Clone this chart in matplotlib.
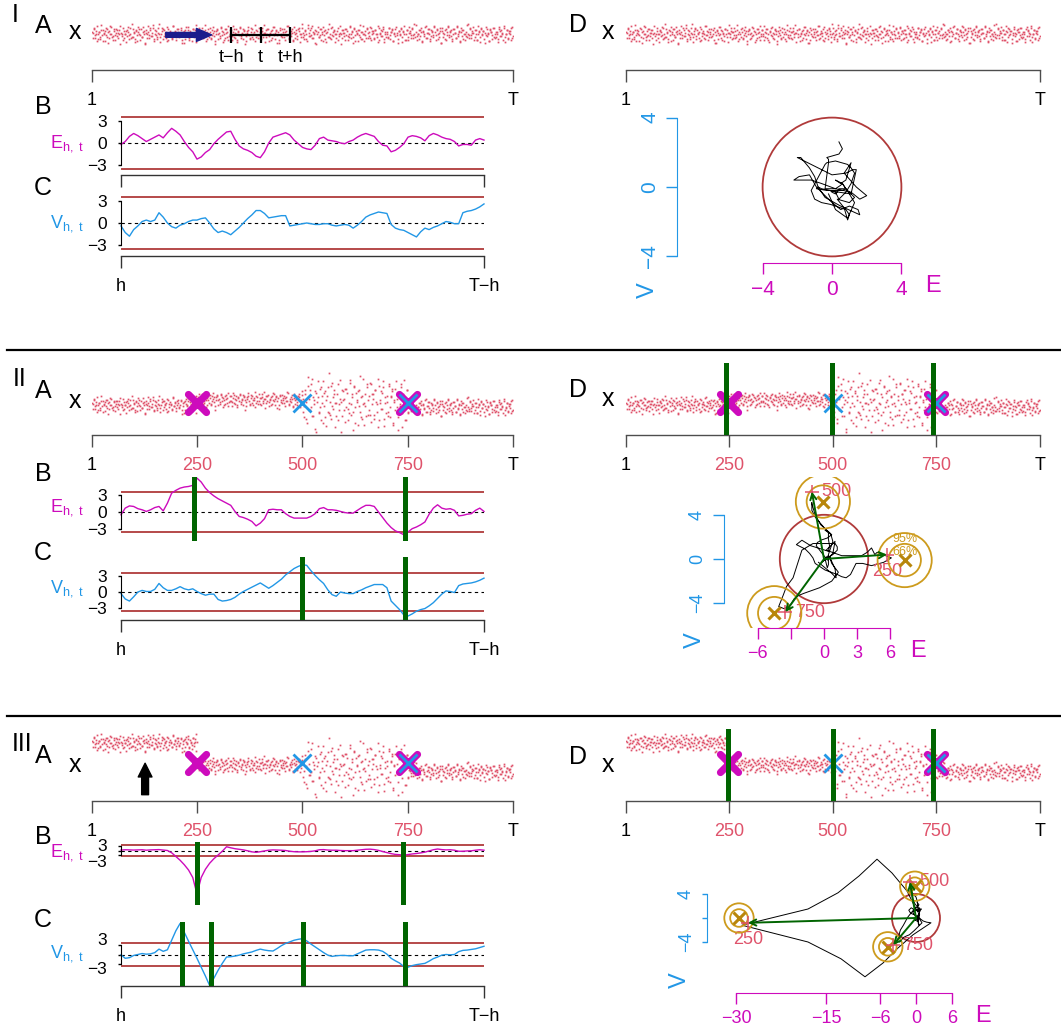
import matplotlib
import numpy as np

matplotlib.use("Agg")
import matplotlib.pyplot as plt
from matplotlib.lines import Line2D
from matplotlib.markers import MarkerStyle
from matplotlib.patches import Circle
from matplotlib.transforms import ScaledTranslation

plt.rcParams["font.family"] = ["Liberation Sans", "DejaVu Sans"]
plt.rcParams["mathtext.fontset"] = "custom"
plt.rcParams["mathtext.rm"] = "Liberation Sans"
plt.rcParams["mathtext.it"] = "Liberation Sans"
plt.rcParams["mathtext.default"] = "regular"

# ------------------------------------------------------------------ data
T_LEN = 1000
H_WIN = 70
THRESH = 3.6            # limit lines in B and C
R_LIMIT = 4.0           # limit circle in D
R66, R95 = 1.47, 2.45   # confidence circles round the expected shifts

# standardised noise of the simulated series x (tenths of a sd)
noise_tenths = [
    5, -8, 13, -2, 0, 17, -11, 4, -6, 9, -15, 2, 7, -3, 11, -19, 6, -1, 14, -7,
    -4, 10, -13, 3, 8, -9, 1, 16, -5, -12, 6, 0, -17, 9, 4, -2, 12, -8, 21, -6,
    2, -10, 7, -14, 5, 11, -3, -7, 15, 1, -20, 8, -1, 4, -9, 13, -5, 3, 18, -11,
    9, -2, -6, 12, 0, -16, 6, 10, -4, 3, -8, 14, -13, 2, 7, -1, -10, 17, -3, 5,
    -7, 1, 11, -5, 8, -12, 4, -18, 9, 2, -3, 15, -9, 6, 0, -14, 10, -6, 3, 19,
    -1, 7, -11, 4, 13, -8, -2, 9, -15, 5, 1, -6, 12, -10, 8, 3, -4, -21, 6, 11,
    0, -9, 14, -3, 5, -12, 10, 2, -7, 16, -5, 8, -1, -13, 4, 11, -8, 1, -16, 7,
    12, -4, 3, -10, 9, 0, -14, 6, 15, -2, -8, 4, 10, -11, 1, 18, -6, 7, -3, -9,
    5, 13, -7, 2, -17, 8, -1, 11, -5, 3, -12, 9, 0, 14, -10, 6, -3, -19, 12, 1,
    -6, 4, 10, -13, 7, -2, 16, -8, 2, -4, 11, -15, 5, 0, 8, -11, 13, -1, -7, 20,
    3, -10, 6, 1, -14, 12, -5, 9, -3, 17, -9, 2, -18, 7, 4, -6, 10, -12, 0, 15,
    -2, 8, -16, 5, 11, -7, 1, -11, 14, -4, 6, 0, -9, 13, -1, 3, -20, 9, 2, -5,
    10, -3, 7, -12, 0, 16, -8, 4, -6, 12, -14, 1, 8, -2, 19, -10, 5, -1, -15, 6,
    -9, 11, 2, -5, 14, -13, 6, 3, -8, 9, -1, -17, 12, 0, -4, 7, 15, -11, 4, -7,
    1, -6, 13, -10, 5, 8, -15, 2, 10, -3, -19, 6, -1, 11, -7, 4, 16, -12, 0, 9,
    -13, 3, 7, -2, 12, -8, 0, 18, -5, 1, -11, 9, 4, -16, 6, -4, 14, -9, 2, 10,
    -1, -14, 8, 5, -7, 15, -3, 11, -10, 2, 6, -18, 13, -6, 0, 9, -12, 4, 17, -2,
    7, -5, -11, 10, 3, -9, 16, -1, 4, -15, 12, -4, 8, 1, -13, 5, -7, 20, -3, 11,
    -8, 2, 14, -6, 9, -12, 0, 6, -17, 13, -2, 7, -10, 3, 15, -5, 1, -14, 10, 4,
    -3, 12, -9, 5, 0, -16, 11, -4, 8, 2, -12, 17, -6, 1, 9, -11, 6, -1, 13, -8,
]

# segment levels and spreads of x (segments start at these times)
seg_start = [1, 250, 500, 750]
mean_I = [0.0, 0.0, 0.0, 0.0]
sd_I = [1.1, 1.1, 1.1, 1.1]
mean_II = [-0.45, 0.65, 0.0, -0.9]
sd_II = [1.0, 1.0, 3.2, 1.1]
mean_III = [4.9, 0.0, -0.65, -1.55]
sd_III = [1.0, 1.0, 3.2, 1.1]

# E_{h,t} and V_{h,t}, t = h ... T-h every 10
t_ev = np.arange(H_WIN, T_LEN - H_WIN + 1, 10)
e_I = [
    -0.2, 0.2, 0.9, 1.3, 1.0, 0.6, 0.2, 0.5, 0.8, 1.1,
    0.7, 1.4, 2.0, 1.6, 1.1, 0.2, -0.6, -1.2, -2.2, -1.9,
    -1.3, -0.9, -0.1, 0.5, 1.0, 1.5, 1.6, 0.5, -0.4, -0.8,
    -1.0, -1.3, -1.8, -2.0, -1.2, 0.0, 0.8, 1.0, 1.2, 1.4,
    1.1, 0.4, -0.1, -0.6, -0.8, -0.9, -0.3, 0.6, 0.8, 0.4,
    0.3, 0.2, 0.0, -0.1, 0.2, 0.4, 0.8, 1.1, 1.3, 1.1,
    0.9, 0.2, -0.3, -0.4, -1.2, -1.0, -0.6, -0.1, 0.8, 1.0,
    0.9, 0.7, 0.3, 1.0, 1.3, 1.1, 0.8, 0.6, 0.5, 0.2,
    -0.4, -0.2, -0.2, -0.3, 0.4, 0.6, 0.4,
]
v_I = [
    -0.4, -1.3, -1.8, -0.9, -0.4, 0.2, 0.4, 0.2, 0.4, 1.4,
    0.8, 0.0, -0.5, -0.7, -0.3, -0.1, 0.2, 0.4, 0.4, 0.6,
    0.7, 0.0, -0.8, -1.3, -1.1, -1.3, -1.6, -1.1, -0.6, 0.0,
    0.6, 1.1, 1.7, 1.7, 1.3, 0.7, 0.8, 0.9, 1.0, 1.0,
    -0.4, -0.3, -0.2, -0.1, 0.0, -0.1, -0.2, -0.2, -0.1, -0.1,
    -0.3, -0.4, -0.3, -0.2, -0.3, -0.7, -0.3, 0.2, 0.8, 1.1,
    1.3, 1.5, 1.4, 1.3, -0.2, -0.7, -0.9, -1.0, -1.3, -1.6,
    -1.9, -1.2, -0.7, -0.9, -0.6, -0.4, -0.1, 0.2, 0.1, -0.1,
    -0.1, 1.4, 1.6, 1.7, 1.9, 2.2, 2.6,
]
e_II = [
    -0.5, 0.7, 1.1, 1.0, 0.6, 0.4, 0.1, 0.4, 0.8, 1.0,
    0.2, 1.6, 3.4, 3.9, 4.3, 4.5, 4.6, 4.8, 6.1, 5.4,
    4.3, 3.5, 2.9, 2.4, 2.0, 1.6, 1.2, 0.1, -0.8, -1.0,
    -1.3, -1.7, -2.5, -2.0, -1.2, 0.4, 0.5, 0.4, 0.4, -0.3,
    -0.8, -1.1, -1.1, -1.1, -1.1, -0.8, -0.3, 0.6, 0.8, 0.4,
    0.4, 0.3, 0.1, -0.1, -0.2, -0.2, 0.3, 0.8, 1.2, 1.2,
    1.0, 0.0, -1.0, -2.0, -2.8, -3.4, -3.7, -4.1, -3.6, -3.0,
    -2.7, -2.3, -1.8, -0.4, 0.7, 1.3, 0.7, 0.5, 0.6, 0.3,
    -0.7, -0.6, -0.4, -0.3, 0.3, 0.7, 0.1,
]
v_II = [
    -0.3, -1.3, -1.7, -0.9, 0.0, 0.3, 0.1, 0.1, 0.5, 1.6,
    0.8, 0.3, 0.3, 0.6, 1.0, 0.6, 0.4, 0.6, 0.1, -0.3,
    -0.6, -0.4, -0.4, -1.4, -1.7, -1.6, -1.4, -1.0, -0.4, 0.1,
    0.5, 0.9, 1.3, 1.7, 1.2, 0.7, 1.2, 1.8, 2.4, 3.2,
    3.8, 4.4, 4.8, 5.1, 5.0, 4.0, 3.1, 2.3, 1.6, 0.4,
    -0.5, -0.8, 0.0, -0.2, -0.3, -0.3, 0.1, 0.4, 0.8, 1.1,
    1.4, 1.4, 1.4, 0.8, -1.7, -2.5, -3.3, -4.3, -4.5, -4.1,
    -3.6, -3.3, -3.1, -2.6, -2.0, -1.2, -0.4, 0.2, 0.1, -0.1,
    1.2, 1.5, 1.6, 1.7, 1.9, 2.2, 2.6,
]
e_III = [
    0.3, 0.5, 0.4, 0.3, 0.4, 0.5, 0.2, 0.4, 0.5, 0.6,
    0.3, 0.0, -1.5, -4.0, -6.5, -9.5, -13.0, -18.0, -29.0, -18.0,
    -12.5, -8.5, -5.5, -3.0, -0.5, 2.5, 1.8, 1.2, 0.8, 0.4,
    -0.2, -0.9, -1.2, -0.8, -0.3, 0.2, 0.4, 0.3, 0.2, 0.0,
    -0.5, -0.8, -0.9, -0.9, -0.8, -0.6, -0.2, 0.5, 0.6, 0.3,
    0.2, 0.2, 0.0, -0.1, -0.1, -0.1, 0.2, 0.5, 0.8, 0.9,
    0.6, 0.1, -0.7, -1.4, -2.1, -2.6, -2.8, -3.1, -2.7, -2.3,
    -2.0, -1.6, -1.1, -0.3, 0.5, 1.0, 0.6, 0.4, 0.5, 0.2,
    -0.5, -0.5, -0.3, -0.2, 0.2, 0.5, 0.2,
]
v_III = [
    -0.1, -1.2, -1.0, -0.3, 0.0, 0.3, 0.1, 0.2, 0.6, 1.7,
    1.0, 1.5, 4.5, 7.5, 9.8, 7.0, 4.2, 1.5, -1.2, -4.0,
    -6.8, -9.8, -7.5, -5.0, -2.8, -0.8, -0.7, -0.5, -0.2, 0.2,
    0.5, 0.8, 1.3, 1.7, 1.4, 1.2, 1.1, 1.9, 2.8, 3.5,
    4.0, 4.5, 4.8, 5.0, 4.3, 3.3, 2.4, 1.5, 0.6, -0.2,
    -0.6, -0.4, -0.3, -0.3, -0.4, -0.4, 0.2, 0.8, 1.4, 1.5,
    1.5, 1.4, 1.0, 0.1, -1.2, -2.0, -2.7, -3.8, -4.0, -3.5,
    -3.2, -3.0, -2.8, -2.1, -1.3, -0.8, -0.2, 0.0, -0.1, 0.0,
    0.9, 1.3, 1.4, 1.6, 1.8, 2.2, 2.6,
]

change_ticks = [1, 250, 500, 750, 1000]
change_labels = ["1", "250", "500", "750", "T"]
mean_marks = [250, 750]   # magenta crosses: change in mean
var_marks = [500, 750]    # blue crosses: change in variance

# detected change points (green bars)
bars_e_II = [242, 742]
bars_v_II = [498, 744]
bars_d_II = [242, 498, 742]
bars_e_III = [250, 739]
bars_v_III = [214, 283, 500, 744]
bars_d_III = [247, 500, 742]

# panel D: expected shifts (gold) and observed (E, V) at the change points
point_labels = ["250", "500", "750"]
gold_e_II = [7.3, -0.1, -4.5]
gold_v_II = [-0.1, 5.2, -4.9]
plus_e_II = [5.7, -1.1, -3.5]
plus_v_II = [0.4, 6.1, -4.8]
gold_e_III = [-29.5, -0.2, -4.7]
gold_v_III = [0.0, 5.3, -4.8]
plus_e_III = [-28.0, -1.0, -3.8]
plus_v_III = [-0.8, 6.0, -4.5]

# schematic of row I
arrow_t = [176, 285]
bracket_t = [331, 401, 471]
bracket_labels = ["t\u2212h", "t", "t+h"]
up_arrow_t = 127

# ------------------------------------------------------------------ style
PT_RED = "#DF536B"
MAG = "#CD0BBC"
BLUE = "#2297E6"
THR = "#B03A3A"
GOLD = "#CD9B1D"
GREEN = "#006400"
AXC = "#4D4D4D"
MINUS = "\u2212"

W, H = 1061, 1036
PT = 0.72      # points per pixel at 100 dpi
PPX = 4.5      # pixels per unit of x in panels A

fig = plt.figure(figsize=(W / 100, H / 100), dpi=100)

# the typed noise read forwards, interleaved with a shifted backwards pass
base = np.asarray(noise_tenths) / 10.0
noise = np.column_stack([base, np.roll(base, 137)[::-1]]).ravel()
t_x = np.linspace(1, T_LEN, len(noise))


def px_axes(left, right, top, bottom):
    ax = fig.add_axes([left / W, 1 - bottom / H, (right - left) / W, (bottom - top) / H])
    for sp in ax.spines.values():
        sp.set_visible(False)
    ax.set_xticks([])
    ax.set_yticks([])
    ax.patch.set_alpha(0)
    return ax


def ftext(x, y, s, **kw):
    kw.setdefault("ha", "center")
    kw.setdefault("va", "center")
    fig.text(x / W, 1 - y / H, s, **kw)


def x_series(mean, sd):
    seg = np.searchsorted(seg_start, t_x, side="right") - 1
    return np.asarray(mean)[seg] + np.asarray(sd)[seg] * noise


def time_axis(ax, ticks, labels, colors, color=AXC):
    sp = ax.spines["bottom"]
    sp.set_visible(True)
    sp.set_color(color)
    sp.set_linewidth(1)
    sp.set_bounds(ticks[0], ticks[-1])
    ax.set_xticks(ticks)
    ax.set_xticklabels(labels)
    ax.tick_params(axis="x", length=12 * PT, width=1, color=color, pad=7, labelsize=13)
    for lab, c in zip(ax.get_xticklabels(), colors):
        lab.set_color(c)


def crosses(ax, y):
    mag = MarkerStyle("x", capstyle="round")
    ax.plot(mean_marks, [y] * len(mean_marks), ls="none", marker=mag, ms=13,
            mew=5.2, color=MAG, zorder=3)
    ax.plot(var_marks, [y] * len(var_marks), ls="none", marker="x", ms=12.5,
            mew=2, color=BLUE, zorder=4)


def x_panel(left, right, top, bottom, zero, xs, full_ticks):
    ax = px_axes(left, right, top, bottom)
    ax.set_xlim(1, T_LEN)
    ax.set_ylim((zero - bottom) / PPX, (zero - top) / PPX)
    ax.plot(t_x, xs, "s", ms=1.25, mew=0, color=PT_RED, zorder=2)
    if full_ticks:
        cols = ["black", PT_RED, PT_RED, PT_RED, "black"]
        time_axis(ax, change_ticks, change_labels, cols)
    else:
        time_axis(ax, [1, T_LEN], ["1", "T"], ["black", "black"])
    return ax


def level_panel(top, bottom, zero, ppu, series, color, bars, xlabels, ylabels,
                label_shift=(0, 0, 0)):
    ax = px_axes(121, 484, top, bottom)
    ax.set_xlim(H_WIN, T_LEN - H_WIN)
    ax.set_ylim((zero - bottom) / ppu, (zero - top) / ppu)
    for y in (THRESH, -THRESH):
        ax.axhline(y, color=THR, lw=1.3, zorder=1)
    ax.axhline(0, color="black", lw=0.8, ls=(0, (3, 3)), zorder=1)
    ax.plot(t_ev, series, color=color, lw=1.0, clip_on=False, zorder=2)
    for b in bars:
        ax.axvline(b, color=GREEN, lw=5 * PT, zorder=3)
    sp = ax.spines["left"]
    sp.set_visible(True)
    sp.set_bounds(-3, 3)
    ax.set_yticks([-3, 0, 3])
    ax.set_yticklabels(ylabels)
    ax.tick_params(axis="y", length=3 * PT, width=1, pad=8, labelsize=12.5)
    # nudge crowded labels apart (pixels, positive = up)
    for lab, dy in zip(ax.get_yticklabels(), label_shift):
        lab.set_transform(lab.get_transform() + ScaledTranslation(0, dy / 100, fig.dpi_scale_trans))
    if xlabels is not None:
        time_axis(ax, [H_WIN, T_LEN - H_WIN], xlabels, ["black", "black"], color="#333333")
    return ax


def phase_panel(left, top, bottom, cx, cy, ppu, e, v, eticks, elabels, vlabels,
                size, vtick=11):
    right = 1055
    ax = px_axes(left, right, top, bottom)
    ax.set_xlim((left - cx) / ppu, (right - cx) / ppu)
    ax.set_ylim((cy - bottom) / ppu, (cy - top) / ppu)
    ax.add_patch(Circle((0, 0), R_LIMIT, fill=False, ec=THR, lw=1.3, zorder=2))
    ax.plot(e, v, color="black", lw=0.7, zorder=3)
    sp = ax.spines["left"]
    sp.set_visible(True)
    sp.set_color(BLUE)
    sp.set_bounds(-4, 4)
    ax.set_yticks([-4, 0, 4])
    ax.set_yticklabels(vlabels)
    ax.tick_params(axis="y", length=vtick * PT, width=1, color=BLUE, labelcolor=BLUE,
                   labelsize=size, labelrotation=90, pad=5)
    for lab in ax.get_yticklabels():
        lab.set_va("center")
    sp = ax.spines["bottom"]
    sp.set_visible(True)
    sp.set_color(MAG)
    sp.set_bounds(eticks[0], eticks[-1])
    ax.set_xticks(eticks)
    ax.set_xticklabels(elabels)
    ax.tick_params(axis="x", length=11 * PT, width=1, color=MAG, labelcolor=MAG,
                   labelsize=size, pad=4)
    return ax


def shifts(ax, ge, gv, pe, pv, show_pct):
    for k in range(len(ge)):
        for r in (R66, R95):
            ax.add_patch(Circle((ge[k], gv[k]), r, fill=False, ec=GOLD, lw=1.3, zorder=4))
        ax.annotate("", xy=(pe[k], pv[k]), xytext=(0, 0), zorder=6,
                    arrowprops=dict(arrowstyle="->", color=GREEN, lw=1.4,
                                    shrinkA=0, shrinkB=0, mutation_scale=11))
        if k == 0:
            ax.annotate(point_labels[k], (pe[k], pv[k]), xytext=(0, -6),
                        textcoords="offset points", ha="center", va="top",
                        color=PT_RED, fontsize=13)
        else:
            ax.annotate(point_labels[k], (pe[k], pv[k]), xytext=(7, 0),
                        textcoords="offset points", ha="left", va="center",
                        color=PT_RED, fontsize=13)
    ax.plot(ge, gv, ls="none", marker="x", ms=8, mew=2.2, color="#B8860B", zorder=5)
    ax.plot(pe, pv, ls="none", marker="+", ms=10, mew=1.1, color=PT_RED, zorder=5)
    if show_pct:
        ax.text(ge[0], gv[0] + R95 - 0.55, "95%", color=GOLD, fontsize=9,
                ha="center", va="center")
        ax.text(ge[0], gv[0] + R66 - 0.75, "66%", color=GOLD, fontsize=9,
                ha="center", va="center")


def ev_labels(ye, yv):
    ftext(67, ye, r"$E_{h,\ t}$", color=MAG, fontsize=13)
    ftext(67, yv, r"$V_{h,\ t}$", color=BLUE, fontsize=13)


# ------------------------------------------------------------------ row I
x_I = x_series(mean_I, sd_I)
ax = x_panel(92, 513, 10, 70, 34, x_I, False)
ax.annotate("", xy=(arrow_t[1], -0.2), xytext=(arrow_t[0], -0.2), zorder=5,
            arrowprops=dict(arrowstyle="simple,head_length=1.0,head_width=0.85,tail_width=0.32",
                            color="#1C1C8C", mutation_scale=11, shrinkA=0, shrinkB=0))
ax.plot([bracket_t[0], bracket_t[-1]], [-0.2, -0.2], color="black", lw=1.6, zorder=5)
ax.vlines(bracket_t, -1.9, 1.5, color="black", lw=1.6, zorder=5)
for bt, bl in zip(bracket_t, bracket_labels):
    ax.text(bt, -5.3, bl, ha="center", va="center", fontsize=13)

level_panel(112, 175, 143, 22 / 3, e_I, MAG, [], ["", ""], [MINUS + "3", "0", "3"])
level_panel(192, 256, 223, 22 / 3, v_I, BLUE, [], ["h", "T" + MINUS + "h"],
            [MINUS + "3", "0", "3"])
ev_labels(144, 224)

x_panel(626, 1040, 10, 70, 34, x_I, False)
phase_panel(677, 110, 263, 832, 187, 17.35, e_I, v_I, [-4, 0, 4],
            [MINUS + "4", "0", "4"], [MINUS + "4", "0", "4"], 15)

ftext(15, 15, "I", fontsize=18)
ftext(43, 26, "A", fontsize=18)
ftext(75, 32, "x", fontsize=18)
ftext(43, 107, "B", fontsize=18)
ftext(43, 188, "C", fontsize=18)
ftext(578, 25, "D", fontsize=18)
ftext(608, 32, "x", fontsize=18)
ftext(648, 290, "V", fontsize=17, color=BLUE, rotation=90)
ftext(933, 286, "E", fontsize=17, color=MAG)

# ------------------------------------------------------------------ row II
x_II = x_series(mean_II, sd_II)
ax = x_panel(92, 513, 360, 435, 403, x_II, True)
crosses(ax, 0.0)
level_panel(477, 541, 512, 5.55, e_II, MAG, bars_e_II, None, [MINUS + "3", "0", "3"])
level_panel(557, 620, 592, 16 / 3, v_II, BLUE, bars_v_II, ["h", "T" + MINUS + "h"],
            [MINUS + "3", "0", "3"])
ev_labels(508, 589)

ax = x_panel(626, 1040, 360, 435, 403, x_II, True)
crosses(ax, 0.0)
for b in bars_d_II:
    ax.axvline(b, ymin=0, ymax=0.93, color=GREEN, lw=5 * PT, zorder=5)
ax = phase_panel(724, 477, 628, 824, 559, 11.05, e_II, v_II, [-6, -3, 0, 3, 6],
                 [MINUS + "6", "", "0", "3", "6"], [MINUS + "4", "0", "4"], 13)
shifts(ax, gold_e_II, gold_v_II, plus_e_II, plus_v_II, True)

ftext(20, 379, "II", fontsize=18)
ftext(43, 391, "A", fontsize=18)
ftext(75, 401, "x", fontsize=18)
ftext(43, 474, "B", fontsize=18)
ftext(43, 553, "C", fontsize=18)
ftext(578, 390, "D", fontsize=18)
ftext(608, 399, "x", fontsize=18)
ftext(695, 640, "V", fontsize=17, color=BLUE, rotation=90)
ftext(918, 651, "E", fontsize=17, color=MAG)

# ------------------------------------------------------------------ row III
x_III = x_series(mean_III, sd_III)
ax = x_panel(92, 513, 725, 801, 765, x_III, True)
crosses(ax, 0.4)
ax.annotate("", xy=(up_arrow_t, 0.4), xytext=(up_arrow_t, -6.6), zorder=5,
            arrowprops=dict(arrowstyle="simple,head_length=0.9,head_width=0.9,tail_width=0.45",
                            color="black", mutation_scale=11, shrinkA=0, shrinkB=0))
level_panel(842, 905, 850.5, 1.5, e_III, MAG, bars_e_III, None, [MINUS + "3", "", "3"],
            label_shift=(-6, 0, 1))
level_panel(922, 986, 954.5, 19 / 6, v_III, BLUE, bars_v_III, ["h", "T" + MINUS + "h"],
            [MINUS + "3", "", "3"], label_shift=(-4, 0, 6))
ev_labels(853, 954)

ax = x_panel(626, 1040, 725, 801, 765, x_III, True)
crosses(ax, 0.4)
for b in bars_d_III:
    ax.axvline(b, ymin=0, ymax=0.92, color=GREEN, lw=5 * PT, zorder=5)
ax = phase_panel(707, 850, 993, 916, 918, 6.0, e_III, v_III, [-30, -15, -6, 0, 6],
                 [MINUS + "30", MINUS + "15", MINUS + "6", "0", "6"],
                 [MINUS + "4", "", "4"], 13, vtick=5)
shifts(ax, gold_e_III, gold_v_III, plus_e_III, plus_v_III, False)

ftext(22, 744, "III", fontsize=18)
ftext(43, 756, "A", fontsize=18)
ftext(75, 765, "x", fontsize=18)
ftext(43, 837, "B", fontsize=18)
ftext(43, 920, "C", fontsize=18)
ftext(578, 757, "D", fontsize=18)
ftext(608, 765, "x", fontsize=18)
ftext(680, 980, "V", fontsize=17, color=BLUE, rotation=90)
ftext(983, 1016, "E", fontsize=17, color=MAG)

# row separators
for y in (350, 716):
    fig.add_artist(Line2D([7 / W, 1], [1 - y / H, 1 - y / H], color="black", lw=1.6))

fig.savefig("out.png", dpi=100)
